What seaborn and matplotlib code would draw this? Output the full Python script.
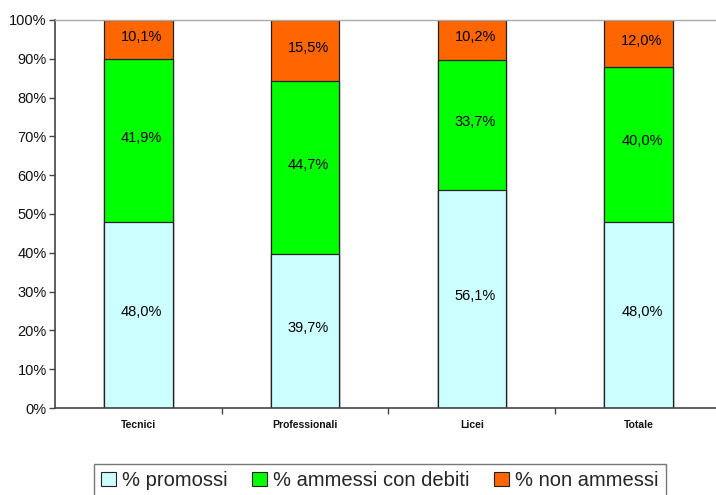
import matplotlib
matplotlib.use("Agg")
import matplotlib.pyplot as plt
import seaborn as sns
import pandas as pd
import numpy as np
from matplotlib.patches import Patch

categories = ["Tecnici", "Professionali", "Licei", "Totale"]
promossi = [48.0, 39.7, 56.1, 48.0]
ammessi_debiti = [41.9, 44.7, 33.7, 40.0]
non_ammessi = [10.1, 15.5, 10.2, 12.0]
series_names = ["% promossi", "% ammessi con debiti", "% non ammessi"]
colors = ["#CCFFFF", "#00FF00", "#FF6600"]
yticks = [0, 10, 20, 30, 40, 50, 60, 70, 80, 90, 100]

sns.set_theme(style="white")
plt.rcParams["font.family"] = ["Liberation Sans", "DejaVu Sans"]

fig = plt.figure(figsize=(7.16, 4.95), dpi=100)
ax = fig.add_axes([55/716, 1-408/495, 667/716, 388/495])

df = pd.DataFrame({
    "cat": categories,
    "p": promossi,
    "a": ammessi_debiti,
    "n": non_ammessi,
})
df["top1"] = df["p"]
df["top2"] = df["p"] + df["a"]
df["top3"] = df["p"] + df["a"] + df["n"]

width = 0.41
for col, c in [("top3", colors[2]), ("top2", colors[1]), ("top1", colors[0])]:
    sns.barplot(data=df, x="cat", y=col, color=c, width=width, edgecolor="#222222",
                linewidth=0.9, saturation=1, ax=ax, order=categories)

for i in range(len(categories)):
    segs = [(0, promossi[i]), (promossi[i], promossi[i] + ammessi_debiti[i]),
            (promossi[i] + ammessi_debiti[i], promossi[i] + ammessi_debiti[i] + non_ammessi[i])]
    vals = [promossi[i], ammessi_debiti[i], non_ammessi[i]]
    for (b, t), v in zip(segs, vals):
        ax.text(i + 0.02, (b + t) / 2 + 0.7, f"{v:.1f}%".replace(".", ","), ha="center", va="center",
                fontsize=10.5, color="black")

ax.set_xlim(-0.5, 3.5)
ax.set_ylim(0, 100)
ax.set_yticks(yticks)
ax.set_yticklabels([f"{v}%" for v in yticks], fontsize=10.5, color="#111111")
ax.set_xlabel("")
ax.set_ylabel("")
ax.set_xticks(range(len(categories)))
ax.set_xticklabels(categories, fontsize=7.5, fontweight="bold", color="#111111")
ax.tick_params(axis="x", which="major", length=0, pad=9)
ax.set_xticks([0.5, 1.5, 2.5], minor=True)
ax.tick_params(axis="x", which="minor", length=4, width=1, color="#444444", direction="out", bottom=True)
ax.tick_params(axis="y", length=4, width=1, color="#444444", direction="out", left=True, pad=2)

for s in ["left", "bottom"]:
    ax.spines[s].set_color("#444444")
    ax.spines[s].set_linewidth(1.2)
ax.spines["top"].set_color("#AAAAAA")
ax.spines["top"].set_linewidth(1.0)
ax.spines["right"].set_visible(False)

handles = [Patch(facecolor=c, edgecolor="#222222", linewidth=0.8) for c in colors]
leg = fig.legend(handles, series_names, loc="upper center", bbox_to_anchor=(380/716, 1-464/495),
                 ncol=3, fontsize=14.5, frameon=True, fancybox=False, edgecolor="#555555",
                 handlelength=0.75, handleheight=0.75, handletextpad=0.3, columnspacing=1.2,
                 borderpad=0.35, borderaxespad=0)
leg.get_frame().set_linewidth(1.0)

fig.savefig("out.png", dpi=100)
